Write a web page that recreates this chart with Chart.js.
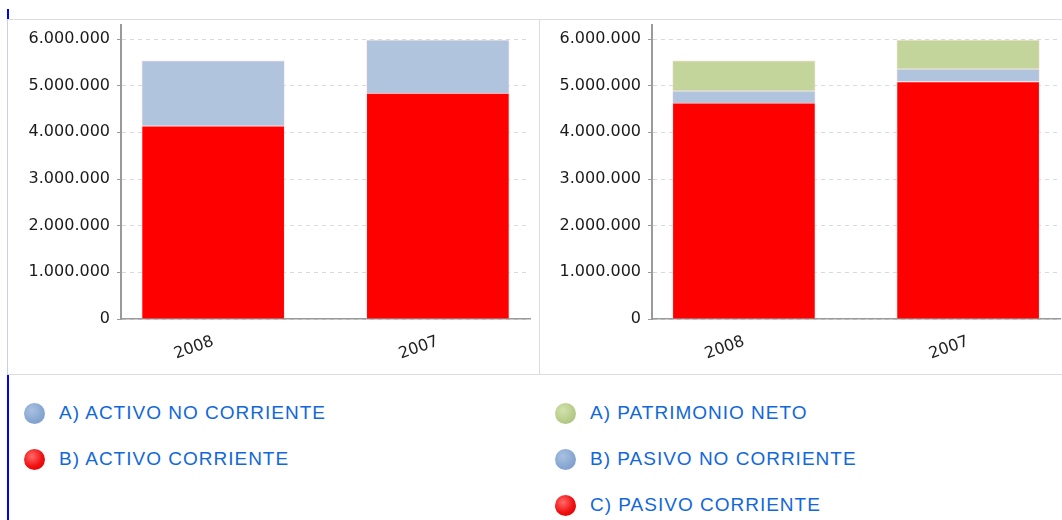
<!DOCTYPE html>
<html>
<head>
<meta charset="utf-8">
<script src="https://cdn.jsdelivr.net/npm/chart.js@4/dist/chart.umd.min.js"></script>
<style>
  body { margin: 0; background: #fff; width: 1062px; height: 520px; overflow: hidden; position: relative; }
  #bar { position: absolute; left: 7px; top: 9px; width: 2px; height: 511px; background: #0000ff; }
  .panel { position: absolute; top: 19px; height: 356px; box-sizing: border-box; border: 1px solid #dcdcdc; background: #fff; }
  #p1 { left: 7px; width: 533px; border-left-color: #c9cfe8; }
  #p2 { left: 539px; width: 523px; border-right: none; }
  .legend { position: absolute; top: 390px; font-family: "Liberation Sans", Arial, sans-serif; font-size: 19px; letter-spacing: 1px; color: #1167dc; }
  .legend div { height: 46px; display: flex; align-items: center; white-space: nowrap; }
  .legend span.dot { width: 21px; height: 21px; border-radius: 50%; display: inline-block; margin-right: 14px; flex: none; }
  #l1 { left: 24px; }
  #l2 { left: 555px; }
</style>
</head>
<body>
<div id="bar"></div>
<div class="panel" id="p1"><canvas id="c1" width="531" height="354"></canvas></div>
<div class="panel" id="p2"><canvas id="c2" width="522" height="354"></canvas></div>
<div class="legend" id="l1"></div>
<div class="legend" id="l2"></div>
<script>
Chart.defaults.font.family = 'DejaVu Sans';
Chart.defaults.color = '#222';

const years = ['2008', '2007'];
const yTicks = [0, 1000000, 2000000, 3000000, 4000000, 5000000, 6000000];

// Activo
const activoNoCorriente = [1400000, 1140000];
const activoCorriente = [4140000, 4840000];

// Patrimonio neto y pasivo
const patrimonioNeto = [650000, 620000];
const pasivoNoCorriente = [260000, 270000];
const pasivoCorriente = [4630000, 5090000];

const RED = '#ff0000';
const BLUE = '#b0c4de';
const GREEN = '#c4d59b';

function fmt(v){
  return String(v).replace(/\B(?=(\d{3})+(?!\d))/g, '.');
}

function makeChart(canvasId, datasets, axisWidth, padRight){
  const options = {
    responsive: false,
    animation: false,
    layout: { padding: { top: 5, right: padRight, left: 0, bottom: 0 } },
    plugins: { legend: { display: false }, tooltip: { enabled: false } },
    scales: {
      x: {
        type: 'linear',
        stacked: true,
        offset: false,
        min: -0.41,
        max: 1.41,
        afterBuildTicks: s => { s.ticks = years.map((y, i) => ({ value: i })); },
        afterFit: s => { s.height = 55; s.paddingLeft = 0; s.paddingRight = 0; },
        grid: { display: false },
        border: { display: true, color: '#9a9a9a', width: 1.5 },
        ticks: {
          font: { size: 16 },
          color: '#222',
          minRotation: 20,
          maxRotation: 20,
          autoSkip: false,
          padding: 5,
          callback: (v, i) => years[i]
        }
      },
      y: {
        stacked: true,
        min: 0,
        max: 6300000,
        afterBuildTicks: s => { s.ticks = yTicks.map(v => ({ value: v })); },
        afterFit: s => { s.width = axisWidth; s.paddingTop = 0; s.paddingBottom = 0; },
        grid: { color: '#d9d9d9', tickColor: '#9a9a9a', tickLength: 4 },
        border: { color: '#9a9a9a', width: 2, dash: [4, 4] },
        ticks: {
          font: { size: 16 },
          color: '#1a1a1a',
          padding: 7,
          callback: v => fmt(v)
        }
      }
    }
  };

  return new Chart(document.getElementById(canvasId), {
    type: 'bar',
    data: { datasets: datasets },
    options: options
  });
}

function ds(label, values, color){
  return {
    label: label,
    data: values.map((v, i) => ({ x: i, y: v })),
    backgroundColor: color,
    borderColor: 'rgba(255,220,220,0.5)',
    borderWidth: 1,
    barThickness: 143
  };
}

makeChart('c1', [
  ds('B) ACTIVO CORRIENTE', activoCorriente, RED),
  ds('A) ACTIVO NO CORRIENTE', activoNoCorriente, BLUE)
], 113, 9);

makeChart('c2', [
  ds('C) PASIVO CORRIENTE', pasivoCorriente, RED),
  ds('B) PASIVO NO CORRIENTE', pasivoNoCorriente, BLUE),
  ds('A) PATRIMONIO NETO', patrimonioNeto, GREEN)
], 112, 2);

const dotStyles = {
  blue: 'radial-gradient(circle at 38% 35%, #a9c1e0, #88a8d2 55%, #7396c4)',
  red: 'radial-gradient(circle at 38% 35%, #ff6a6a, #f01010 55%, #d40000)',
  green: 'radial-gradient(circle at 38% 35%, #d3e2ad, #b8cd8a 55%, #a3bb74)'
};

function legend(id, items){
  const el = document.getElementById(id);
  items.forEach(it => {
    const row = document.createElement('div');
    row.innerHTML = '<span class="dot" style="background:' + dotStyles[it[1]] + '"></span>' + it[0];
    el.appendChild(row);
  });
}

legend('l1', [['A) ACTIVO NO CORRIENTE', 'blue'], ['B) ACTIVO CORRIENTE', 'red']]);
legend('l2', [['A) PATRIMONIO NETO', 'green'], ['B) PASIVO NO CORRIENTE', 'blue'], ['C) PASIVO CORRIENTE', 'red']]);
</script>
</body>
</html>
